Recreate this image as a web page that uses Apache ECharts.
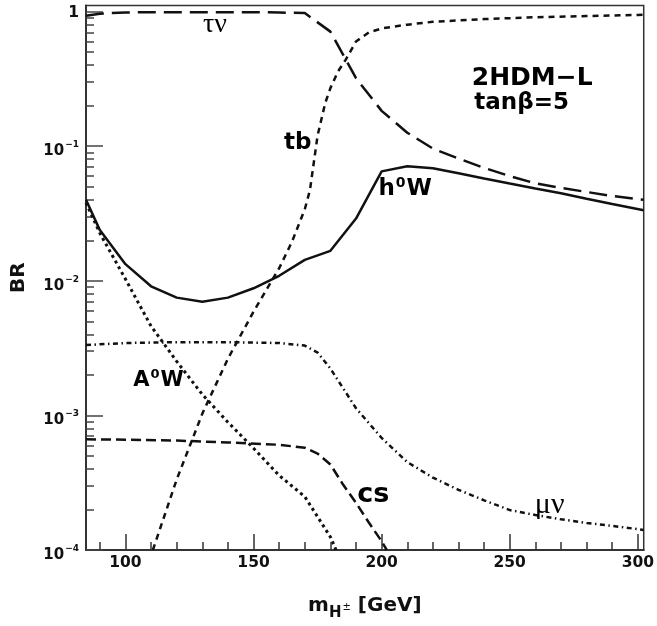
<!DOCTYPE html>
<html><head><meta charset="utf-8">
<script src="https://cdn.jsdelivr.net/npm/echarts@6/dist/echarts.min.js"></script>
<style>html,body{margin:0;padding:0;background:#fff}#c{width:657px;height:626px}</style>
</head><body><div id="c"></div>
<script>
// ---- axis ranges and ticks ----
const xRange = [84.6, 302.3];
const yRange = [1e-4, 1.11];
const xMajorTicks = [100, 150, 200, 250, 300];
const xMinorTicks = [90, 110, 120, 130, 140, 160, 170, 180, 190, 210, 220, 230, 240, 260, 270, 280, 290];
const yMajorTicks = [1e-4, 1e-3, 1e-2, 1e-1, 1];
const yMinorTicks = [2e-4, 3e-4, 4e-4, 5e-4, 6e-4, 7e-4, 8e-4, 9e-4,
                     2e-3, 3e-3, 4e-3, 5e-3, 6e-3, 7e-3, 8e-3, 9e-3,
                     2e-2, 3e-2, 4e-2, 5e-2, 6e-2, 7e-2, 8e-2, 9e-2,
                     0.2, 0.3, 0.4, 0.5, 0.6, 0.7, 0.8, 0.9];

// ---- branching ratios [m_H+ (GeV), BR] ----
const tauNu = [[84.6,0.93],[90,0.965],[100,0.985],[110,0.99],[120,0.99],[130,0.99],[140,0.99],[150,0.99],[160,0.985],[170,0.975],[180,0.71],[190,0.32],[200,0.183],[210,0.126],[220,0.096],[230,0.081],[240,0.069],[250,0.060],[260,0.053],[270,0.049],[280,0.0457],[290,0.0427],[302.3,0.040]];
const tb = [[110.7,1e-4],[120,3.34e-4],[130,1.03e-3],[140,2.64e-3],[150,5.9e-3],[160,0.0124],[165,0.0195],[170,0.034],[172,0.047],[175,0.12],[178,0.21],[180,0.27],[183,0.36],[186,0.44],[190,0.60],[195,0.70],[200,0.75],[210,0.80],[220,0.84],[240,0.88],[260,0.908],[280,0.927],[300,0.944],[302.3,0.946]];
const h0W = [[84.6,0.040],[90,0.0238],[100,0.0133],[110,0.0091],[120,0.0075],[130,0.0070],[140,0.0075],[150,0.0088],[160,0.0109],[170,0.0143],[180,0.0167],[190,0.029],[200,0.065],[210,0.071],[220,0.0685],[230,0.063],[240,0.0575],[250,0.0528],[260,0.0485],[270,0.0447],[280,0.0407],[290,0.0372],[302.3,0.0334]];
const A0W = [[84.6,0.038],[90,0.0226],[100,0.0103],[110,0.0046],[120,0.00252],[130,0.00143],[140,8.9e-4],[150,5.7e-4],[160,3.58e-4],[170,2.49e-4],[180,1.25e-4],[182.2,1e-4]];
const muNu = [[84.6,3.33e-3],[100,3.45e-3],[120,3.5e-3],[140,3.5e-3],[160,3.45e-3],[170,3.3e-3],[175,2.93e-3],[180,2.23e-3],[190,1.13e-3],[200,6.8e-4],[210,4.5e-4],[220,3.45e-4],[230,2.8e-4],[240,2.34e-4],[250,1.98e-4],[260,1.82e-4],[270,1.69e-4],[280,1.59e-4],[290,1.51e-4],[302.3,1.41e-4]];
const cs = [[84.6,6.64e-4],[100,6.6e-4],[120,6.5e-4],[140,6.3e-4],[160,6.05e-4],[170,5.75e-4],[175,5.2e-4],[180,4.32e-4],[185,3.05e-4],[190,2.24e-4],[195,1.6e-4],[200,1.16e-4],[202,1e-4]];

// ---- annotations (data coordinates) ----
const noteText = ['τν', 'tb', 'h0W', '2HDM−L', 'tanβ=5', 'A0W', 'cs', 'μν'];
const noteX = [135, 167.3, 209.2, 235.2, 236.2, 112.9, 196.8, 265.6];
const noteY = [0.795, 0.105, 0.048, 0.319, 0.209, 1.82e-3, 2.58e-4, 2.16e-4];

// rich formatting per annotation (style only)
const noteFmt = ['{g|τν}', '{b|tb}', '{b|h}{s|0}{b|W}', '{t|2HDM−L}', '{u|tanβ=5}', '{a|A}{s2|0}{a|W}', '{c|cs}', '{g2|μν}'];
const noteAlign = ['center', 'center', 'center', 'left', 'left', 'center', 'center', 'center'];

const BOLD = 'DejaVu Sans';
const INK = '#000';
const chart = echarts.init(document.getElementById('c'), null, {renderer: 'canvas'});

function lineSeries(name, data, type, width) {
  return {
    name, type: 'line', data, xAxisIndex: 0, yAxisIndex: 0,
    showSymbol: false, symbol: 'none', smooth: false, clip: true,
    lineStyle: {color: '#111', width: width || 2.5, type: type, cap: 'butt'},
    silent: true, z: 3
  };
}

const supExp = v => {
  const e = Math.round(Math.log10(v));
  if (e === 0) return '{one|1}';
  return '{b|10}{s|' + (e < 0 ? '−' + (-e) : e) + '}';
};

const option = {
  backgroundColor: '#fff',
  animation: false,
  grid: {left: 86, right: 9, top: 5.5, bottom: 76, show: true, borderColor: '#333', borderWidth: 1.5, backgroundColor: 'transparent'},
  xAxis: [{
    type: 'value', min: xRange[0], max: xRange[1], position: 'bottom',
    axisLine: {show: true, onZero: false, lineStyle: {color: '#333', width: 2}},
    axisTick: {show: true, inside: true, length: 16, customValues: xMajorTicks, lineStyle: {color: '#333', width: 1.5}},
    axisLabel: {show: true, customValues: xMajorTicks, margin: 5, fontFamily: BOLD, fontWeight: 'bold', fontSize: 15.5, color: '#111'},
    splitLine: {show: false},
    name: '{m|m}{h|H}{pm|±}{m| [GeV]}', nameLocation: 'middle', nameGap: 44,
    nameTextStyle: {rich: {
      m: {fontFamily: BOLD, fontWeight: 'bold', fontSize: 20, lineHeight: 24, color: '#111'},
      h: {fontFamily: BOLD, fontWeight: 'bold', fontSize: 15, lineHeight: 15, padding: [14, 0, 0, 0], color: '#111'},
      pm: {fontFamily: BOLD, fontSize: 10, lineHeight: 10, padding: [2, 0, 0, 1], color: '#111'}
    }}
  }, {
    type: 'value', min: xRange[0], max: xRange[1], position: 'bottom',
    axisLine: {show: false}, axisLabel: {show: false}, splitLine: {show: false},
    axisTick: {show: true, inside: true, length: 8, customValues: xMinorTicks, lineStyle: {color: '#333', width: 1.5}}
  }],
  yAxis: [{
    type: 'log', logBase: 10, min: yRange[0], max: yRange[1], position: 'left',
    axisLine: {show: true, onZero: false, lineStyle: {color: '#333', width: 2}},
    axisTick: {show: true, inside: true, length: 17, customValues: yMajorTicks, lineStyle: {color: '#444', width: 1.5}},
    axisLabel: {show: true, customValues: yMajorTicks, margin: 7, formatter: supExp,
      rich: {
        one: {fontFamily: BOLD, fontWeight: 'bold', fontSize: 15.5, color: '#111', padding: [3, 0, 0, 0]},
        b: {fontFamily: BOLD, fontWeight: 'bold', fontSize: 15, lineHeight: 15, padding: [10, 0, 0, 0], color: '#111'},
        s: {fontFamily: BOLD, fontWeight: 'bold', fontSize: 9, lineHeight: 9, padding: [0, 0, 3, 1], color: '#111'}
      }},
    splitLine: {show: false},
    name: 'BR', nameLocation: 'middle', nameGap: 57,
    nameTextStyle: {fontFamily: BOLD, fontWeight: 'bold', fontSize: 20, color: '#111'}
  }, {
    type: 'log', logBase: 10, min: yRange[0], max: yRange[1], position: 'left',
    axisLine: {show: false}, axisLabel: {show: false}, splitLine: {show: false},
    axisTick: {show: true, inside: true, length: 8, customValues: yMinorTicks, lineStyle: {color: '#444', width: 1.5}}
  }],
  series: [
    lineSeries('τν', tauNu, [18, 8], 2.5),
    lineSeries('tb', tb, [6, 5], 2.5),
    lineSeries('h0W', h0W, 'solid', 2.5),
    lineSeries('A0W', A0W, [3, 3.5], 3),
    lineSeries('μν', muNu, [5, 3.5, 1.5, 3.5], 2.5),
    lineSeries('cs', cs, [10, 5], 2.5),
    {
      name: 'notes', type: 'scatter', xAxisIndex: 0, yAxisIndex: 0, silent: true,
      symbolSize: 0.1, itemStyle: {color: INK, opacity: 0}, z: 5,
      data: noteText.map((t, i) => ({
        value: [noteX[i], noteY[i]], name: t,
        label: {show: true, position: [0, 0], align: noteAlign[i], verticalAlign: 'middle', formatter: noteFmt[i]}
      })),
      label: {show: true, color: INK, opacity: 1, rich: {
        g: {fontFamily: 'Liberation Serif', fontSize: 28, color: INK},
        g2: {fontFamily: 'Liberation Serif', fontSize: 30, color: INK},
        b: {fontFamily: BOLD, fontWeight: 'bold', fontSize: 23, lineHeight: 26, color: INK},
        s: {fontFamily: BOLD, fontWeight: 'bold', fontSize: 14, lineHeight: 14, padding: [0, 1, 12, 1], color: INK},
        a: {fontFamily: BOLD, fontWeight: 'bold', fontSize: 21, lineHeight: 24, color: INK},
        s2: {fontFamily: BOLD, fontWeight: 'bold', fontSize: 13, lineHeight: 13, padding: [0, 1, 11, 1], color: INK},
        t: {fontFamily: BOLD, fontWeight: 'bold', fontSize: 25, color: INK},
        u: {fontFamily: BOLD, fontWeight: 'bold', fontSize: 23, color: INK},
        c: {fontFamily: BOLD, fontWeight: 'bold', fontSize: 27, color: INK}
      }}
    }
  ]
};
chart.setOption(option);
</script>
</body></html>
